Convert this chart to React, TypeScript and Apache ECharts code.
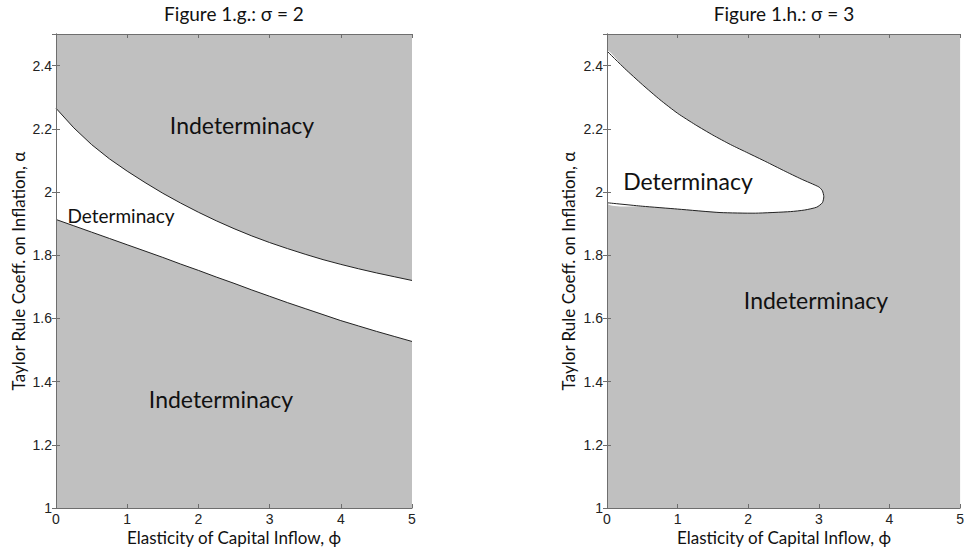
import React, { useEffect, useRef } from 'react';
import * as echarts from 'echarts';

// Figure 1.g (sigma = 2): boundaries of the determinacy band
const leftPhi = [0, 0.25, 0.5, 0.75, 1, 1.25, 1.5, 1.75, 2, 2.25, 2.5, 2.75, 3, 3.25, 3.5, 3.75, 4, 4.25, 4.5, 4.75, 5];
const leftUpper = [2.265, 2.203, 2.15, 2.105, 2.066, 2.03, 1.996, 1.965, 1.936, 1.909, 1.884, 1.861, 1.84, 1.821, 1.803, 1.786, 1.771, 1.757, 1.744, 1.732, 1.72];
const leftLower = [1.913, 1.893, 1.873, 1.853, 1.833, 1.813, 1.793, 1.772, 1.752, 1.731, 1.711, 1.69, 1.67, 1.65, 1.631, 1.612, 1.593, 1.576, 1.559, 1.543, 1.527];

// Figure 1.h (sigma = 3): closed determinacy region boundary
const rightUpperPhi = [0, 0.25, 0.5, 0.75, 1, 1.25, 1.5, 1.75, 2, 2.25, 2.5, 2.75, 3.0, 3.05];
const rightUpperAlpha = [2.446, 2.391, 2.34, 2.292, 2.249, 2.213, 2.18, 2.15, 2.123, 2.096, 2.068, 2.041, 2.016, 2.004];
const rightLowerPhi = [3.07, 3.05, 2.97, 2.8, 2.6, 2.1, 1.6, 1.0, 0.5, 0];
const rightLowerAlpha = [1.985, 1.966, 1.952, 1.943, 1.938, 1.933, 1.935, 1.946, 1.955, 1.966];

const titles = ['Figure 1.g.: \u03c3 = 2', 'Figure 1.h.: \u03c3 = 3'];
const xName = 'Elasticity of Capital Inflow, \u03d5';
const yName = 'Taylor Rule Coeff. on Inflation, \u03b1';

const GRAY = '#c0c0c0';
const AXIS = '#6e6e6e';
const LINE = '#222';
const SANS = 'Lato';
const TICKFONT = 'Liberation Sans';

export default function App() {
  const ref = useRef<HTMLDivElement>(null);
  useEffect(() => {
    if (!ref.current) return;
    const chart = echarts.init(ref.current, null, { renderer: 'svg' });
    const grids = [
      { left: 56, top: 34, width: 356, height: 474 },
      { left: 607, top: 34, width: 354, height: 474 },
    ];
    const mkX = (g: number, pos: 'bottom' | 'top') => ({
      type: 'value', gridIndex: g, position: pos, min: 0, max: 5, interval: 1, z: 10,
      axisLine: { show: true, lineStyle: { color: AXIS, width: 1 } },
      axisTick: { show: true, inside: true, length: 4, lineStyle: { color: AXIS } },
      axisLabel: pos === 'bottom'
        ? { show: true, color: '#222', fontSize: 14, fontFamily: TICKFONT, margin: 4 }
        : { show: false },
      splitLine: { show: false },
    });
    const mkY = (g: number, pos: 'left' | 'right') => ({
      type: 'value', gridIndex: g, position: pos, min: 1, max: 2.5, interval: 0.2, z: 10,
      axisLine: { show: true, lineStyle: { color: AXIS, width: 1 } },
      axisTick: { show: true, inside: true, length: 4, lineStyle: { color: AXIS } },
      axisLabel: pos === 'left'
        ? { show: true, color: '#222', fontSize: 14, fontFamily: TICKFONT, margin: 4, showMaxLabel: false }
        : { show: false },
      splitLine: { show: false },
    });

    const rightBoundary: number[][] = [
      ...rightUpperPhi.map((p, i) => [p, rightUpperAlpha[i]]),
      ...rightLowerPhi.map((p, i) => [p, rightLowerAlpha[i]]),
    ];

    const t = (x: number, y: number, text: string, size: number, rot = 0) => ({
      type: 'text', x, y, z: 20, rotation: rot,
      style: { text, font: `${size}px ${SANS}`, fill: '#111', align: 'center', verticalAlign: 'middle' },
    });

    const texts: any[] = [
      t(234, 13, titles[0], 19),
      t(784, 13, titles[1], 19),
      t(234, 537, xName, 17),
      t(784, 537, xName, 17),
      t(18, 271, yName, 17, Math.PI / 2),
      t(568, 271, yName, 17, Math.PI / 2),
      t(242, 125, 'Indeterminacy', 23),
      t(221, 399, 'Indeterminacy', 23),
      t(121, 215, 'Determinacy', 19),
      t(816, 300, 'Indeterminacy', 23),
      t(688, 181, 'Determinacy', 23),
    ];

    chart.setOption({
      animation: false,
      backgroundColor: '#fff',
      grid: grids.map((g) => ({ ...g, show: true, backgroundColor: GRAY, borderWidth: 0 })),
      xAxis: [mkX(0, 'bottom'), mkX(0, 'top'), mkX(1, 'bottom'), mkX(1, 'top')],
      yAxis: [mkY(0, 'left'), mkY(0, 'right'), mkY(1, 'left'), mkY(1, 'right')],
      series: [
        {
          type: 'line', xAxisIndex: 0, yAxisIndex: 0, smooth: false, symbol: 'none',
          data: leftPhi.map((p, i) => [p, leftUpper[i]]),
          lineStyle: { color: LINE, width: 1 },
          areaStyle: { color: '#ffffff', opacity: 1 },
          z: 2,
        },
        {
          type: 'line', xAxisIndex: 0, yAxisIndex: 0, smooth: false, symbol: 'none',
          data: leftPhi.map((p, i) => [p, leftLower[i]]),
          lineStyle: { color: LINE, width: 1 },
          areaStyle: { color: GRAY, opacity: 1 },
          z: 3,
        },
        {
          type: 'custom', xAxisIndex: 2, yAxisIndex: 2,
          data: [[0, 1]],
          renderItem: (_params: any, api: any) => {
            const pts = rightBoundary.map((d) => api.coord(d));
            return {
              type: 'group',
              children: [
                { type: 'polygon', shape: { points: pts, smooth: 0.2 }, style: { fill: '#ffffff', stroke: 'none' } },
                { type: 'polyline', shape: { points: pts, smooth: 0.2 }, style: { fill: 'none', stroke: LINE, lineWidth: 1 } },
              ],
            };
          },
          z: 2,
        },
      ],
      graphic: texts,
    });
    return () => chart.dispose();
  }, []);
  return <div ref={ref} style={{ position: 'fixed', left: 0, top: 0, width: 967, height: 554 }} />;
}
